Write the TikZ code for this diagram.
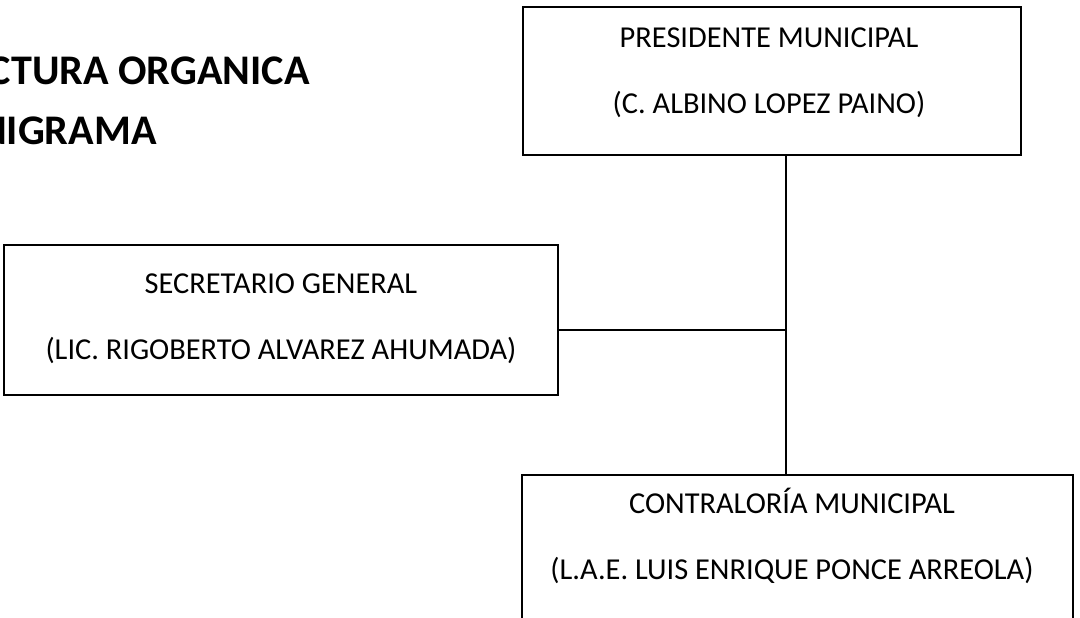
\documentclass[tikz,border=0pt]{standalone}
\usepackage{fontspec}
\setmainfont{Carlito}
\usepackage{tikz}

\begin{document}
\begin{tikzpicture}[x=0.02cm,y=-0.02cm]
\tikzstyle{caja}=[draw,line width=1.1pt,inner sep=0pt];
\tikzstyle{texto}=[inner sep=0pt,anchor=base,font=\fontsize{17.3}{21}\selectfont];
\tikzstyle{titulo}=[inner sep=0pt,anchor=base east,font=\fontsize{24}{28}\selectfont\bfseries];
\tikzstyle{linea}=[line width=1.1pt];
\useasboundingbox (0,0) rectangle (1080,618);
\clip (0,0) rectangle (1080,618);
% titulo (cortado a la izquierda)
\node[titulo] (tit1) at (310,85) {CTURA ORGANICA};
\node[titulo] (tit2) at (157,145) {NIGRAMA};
% cajas
\node[caja,minimum width=498*0.02cm,minimum height=148*0.02cm] (pres) at (772,81) {};
\node[caja,minimum width=554*0.02cm,minimum height=150*0.02cm] (sec) at (281,320) {};
\node[caja,anchor=north,minimum width=551*0.02cm,minimum height=180*0.02cm] (contra) at (797.5,474) {};
% textos
\node[texto] (pres1) at (769,48) {PRESIDENTE MUNICIPAL};
\node[texto] (pres2) at (769,114) {(C. ALBINO LOPEZ PAINO)};
\node[texto] (sec1) at (281,294) {SECRETARIO GENERAL};
\node[texto] (sec2) at (281,360) {(LIC. RIGOBERTO ALVAREZ AHUMADA)};
\node[texto] (contra1) at (792,514) {CONTRALORÍA MUNICIPAL};
\node[texto] (contra2) at (792,580) {(L.A.E. LUIS ENRIQUE PONCE ARREOLA)};
% lineas
\coordinate (tronco) at (786,330);
\draw[linea] (pres.south -| tronco) -- (contra.north -| tronco);
\draw[linea] (sec.east |- tronco) -- (tronco);
\end{tikzpicture}
\end{document}
